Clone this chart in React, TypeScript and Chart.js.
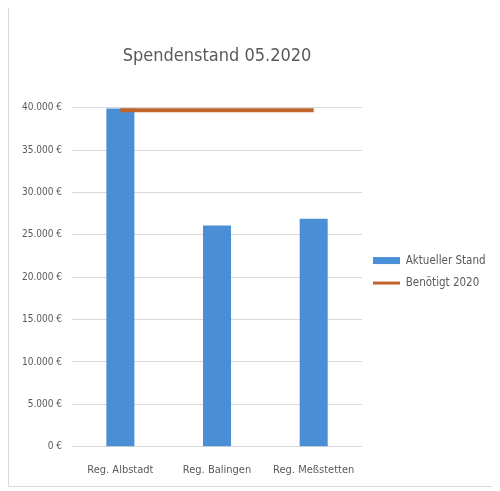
import React, { useEffect, useRef } from "react";
import { Chart, registerables } from "chart.js";

Chart.register(...registerables);

const chartTitle = "Spendenstand 05.2020";
const categories = ["Reg. Albstadt", "Reg. Balingen", "Reg. Meßstetten"];
const currentLabel = "Aktueller Stand";
const currentValues = [39900, 26100, 26900];
const targetLabel = "Benötigt 2020";
const targetValues = [39700, 39700, 39700];
const yMin = 0;
const yMax = 40000;
const yStep = 5000;

const fmtEuro = (v: number) => {
  const s = Math.round(v).toString().replace(/\B(?=(\d{3})+(?!\d))/g, ".");
  return s + " €";
};

const FONT = "'DejaVu Sans Condensed', Roboto, sans-serif";
const TEXT = "#595959";
const BLUE = "#4A8FD6";
const ORANGE = "#C0632D";
const LEGEND_WIDTH = 130;

const legendWidthPlugin = {
  id: "legendWidth",
  beforeLayout(chart: any) {
    const lg = chart.legend;
    if (lg && !lg.__patched) {
      const orig = lg.fit.bind(lg);
      lg.fit = function () {
        orig();
        this.width = LEGEND_WIDTH;
      };
      lg.__patched = true;
    }
  },
};

export default function App() {
  const ref = useRef<HTMLCanvasElement | null>(null);

  useEffect(() => {
    if (!ref.current) return;
    const chart = new Chart(ref.current, {
      type: "bar",
      data: {
        labels: categories,
        datasets: [
          {
            type: "line",
            label: targetLabel,
            data: targetValues,
            borderColor: ORANGE,
            backgroundColor: ORANGE,
            borderWidth: 4,
            pointRadius: 0,
            order: 0,
          } as any,
          {
            type: "bar",
            label: currentLabel,
            data: currentValues,
            backgroundColor: BLUE,
            borderWidth: 0,
            barPercentage: 0.29,
            categoryPercentage: 1,
            order: 1,
          } as any,
        ],
      },
      plugins: [legendWidthPlugin],
      options: {
        animation: false,
        responsive: false,
        maintainAspectRatio: false,
        layout: { padding: { left: 3, right: 0, top: 38, bottom: 0 } },
        plugins: {
          title: {
            display: true,
            text: chartTitle,
            fullSize: false,
            color: TEXT,
            font: { family: FONT, size: 18, weight: "normal" as any },
            padding: { top: 0, bottom: 40 },
          },
          legend: {
            position: "right",
            reverse: true,
            title: {
              display: true,
              text: "",
              font: { size: 8 },
              padding: { top: 0, bottom: 2 },
            },
            labels: {
              color: TEXT,
              font: { family: FONT, size: 11.5 },
              usePointStyle: true,
              pointStyleWidth: 27,
              boxHeight: 7,
              padding: 11,
              generateLabels: (c: any) => {
                const items = Chart.defaults.plugins.legend.labels.generateLabels(c);
                return items.map((it: any) => {
                  const ds = c.data.datasets[it.datasetIndex];
                  if (ds.type === "line") {
                    it.pointStyle = "line";
                    it.lineWidth = 3;
                  } else {
                    it.pointStyle = "rect";
                    it.lineWidth = 0;
                  }
                  return it;
                });
              },
            },
          },
          tooltip: { enabled: false },
        },
        scales: {
          x: {
            grid: { display: false },
            border: { display: false },
            ticks: {
              color: TEXT,
              font: { family: FONT, size: 11 },
              padding: 9,
              maxRotation: 0,
              minRotation: 0,
              autoSkip: false,
            },
          },
          y: {
            min: yMin,
            max: yMax,
            ticks: {
              stepSize: yStep,
              color: TEXT,
              font: { family: FONT, size: 10 },
              padding: 10,
              callback: (v: any) => fmtEuro(Number(v)),
            },
            grid: { color: "#D9D9D9", lineWidth: 1, drawTicks: false },
            border: { display: false },
          },
        },
      },
    });
    return () => chart.destroy();
  }, []);

  return (
    <div
      style={{
        width: 485,
        height: 480,
        border: "1px solid #D9D9D9",
        boxSizing: "border-box",
        marginTop: -1,
      }}
    >
      <canvas ref={ref} width={483} height={478} style={{ display: "block" }} />
    </div>
  );
}
